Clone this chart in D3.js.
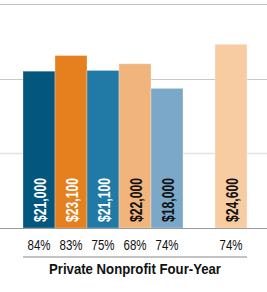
<!DOCTYPE html>
<html>
<head>
<meta charset="utf-8">
<script src="https://cdn.jsdelivr.net/npm/d3@7"></script>
<style>
  body { margin: 0; background: #fff; }
  svg text { font-family: "Liberation Sans", Arial, sans-serif; }
</style>
</head>
<body>
<div id="chart"></div>
<script>
// data
const categories = ["c1", "c2", "c3", "c4", "c5", "gap", "c6"];
const barKeys = ["c1", "c2", "c3", "c4", "c5", "c6"];
const barValues = [21000, 23100, 21100, 22000, 18700, 24600];
const barLabels = ["$21,000", "$23,100", "$21,100", "$22,000", "$18,000", "$24,600"];
const pctLabels = ["84%", "83%", "75%", "68%", "74%", "74%"];
const gridTicks = [10000, 20000, 30000];
const groupTitle = "Private Nonprofit Four-Year";

const barColors = ["#03567e", "#e6801f", "#2179a5", "#f1b47c", "#7ba8c9", "#f7cca2"];
const labelColors = ["#fff", "#fff", "#fff", "#111", "#111", "#111"];
const gridColors = {10000: "#e2e2e2", 20000: "#c8c8c8", 30000: "#bdbdbd"};

const width = 267, height = 292;

const svg = d3.select("#chart").append("svg")
  .attr("width", width)
  .attr("height", height);

const x = d3.scaleBand()
  .domain(categories)
  .range([23, 247])
  .padding(0);

const y = d3.scaleLinear()
  .domain([0, 30000])
  .range([228, 4]);

// grid lines
svg.selectAll(".grid")
  .data(gridTicks)
  .join("line")
  .attr("class", "grid")
  .attr("x1", 0)
  .attr("x2", width)
  .attr("y1", d => Math.round(y(d)) + 0.5)
  .attr("y2", d => Math.round(y(d)) + 0.5)
  .attr("stroke", d => gridColors[d])
  .attr("stroke-width", d => d === 10000 ? 1.5 : 1);

const bars = barKeys.map((k, i) => ({key: k, value: barValues[i], label: barLabels[i], pct: pctLabels[i], i}));

// bars
svg.selectAll(".bar")
  .data(bars)
  .join("rect")
  .attr("class", "bar")
  .attr("x", d => x(d.key))
  .attr("y", d => y(d.value))
  .attr("width", x.bandwidth())
  .attr("height", d => y(0) - y(d.value))
  .attr("fill", d => barColors[d.i])
  .attr("stroke", "#fff")
  .attr("stroke-opacity", 0.3)
  .attr("stroke-width", 1);

// baseline
svg.append("line")
  .attr("x1", 0)
  .attr("x2", width)
  .attr("y1", y(0) + 0.5)
  .attr("y2", y(0) + 0.5)
  .attr("stroke", "#9a9a9a")
  .attr("stroke-width", 1);

// value labels, rotated inside bars (condensed look via textLength)
svg.selectAll(".val")
  .data(bars)
  .join("text")
  .attr("class", "val")
  .attr("transform", d => `translate(${x(d.key) + x.bandwidth() / 2 + 7}, 222) rotate(-90)`)
  .attr("font-size", 17)
  .attr("font-weight", "bold")
  .attr("textLength", 44)
  .attr("lengthAdjust", "spacingAndGlyphs")
  .attr("fill", d => labelColors[d.i])
  .text(d => d.label);

// percent labels
svg.selectAll(".pct")
  .data(bars)
  .join("text")
  .attr("class", "pct")
  .attr("x", d => x(d.key) + x.bandwidth() / 2 - 11.5)
  .attr("y", 250)
  .attr("font-size", 14)
  .attr("textLength", 23)
  .attr("lengthAdjust", "spacingAndGlyphs")
  .attr("fill", "#111")
  .text(d => d.pct);

// group rule and title
svg.append("line")
  .attr("x1", x.range()[0])
  .attr("x2", x.range()[1])
  .attr("y1", 257)
  .attr("y2", 257)
  .attr("stroke", "#888")
  .attr("stroke-width", 1);

svg.append("text")
  .attr("x", 49)
  .attr("y", 274.3)
  .attr("font-size", 14.5)
  .attr("font-weight", "bold")
  .attr("textLength", 172)
  .attr("lengthAdjust", "spacingAndGlyphs")
  .attr("fill", "#111")
  .text(groupTitle);
</script>
</body>
</html>
